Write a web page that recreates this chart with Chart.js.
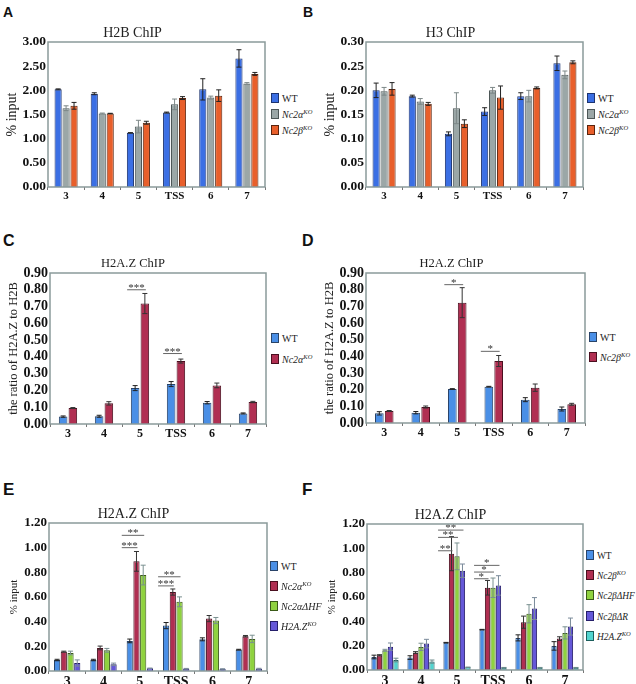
<!DOCTYPE html>
<html>
<head>
<meta charset="utf-8">
<script src="https://cdn.jsdelivr.net/npm/chart.js@4"></script>
<style>
  body { margin: 0; background: #fff; }
  #page { position: relative; width: 636px; height: 684px; overflow: hidden; }
  .panel { position: absolute; }
  .tag { position: absolute; font-family: "Liberation Sans", Arial, sans-serif; font-weight: bold; color: #111; line-height: 1; }
  .lg { position: absolute; font-family: "Liberation Serif", "Times New Roman", serif; font-size: 10px; color: #222; white-space: nowrap; line-height: 12px; }
  .lg.small { font-size: 9.4px; }
  .lg span.box { display: inline-block; width: 6px; height: 8px; border: 1px solid #333; vertical-align: -1px; margin-right: 3px; }
  .lg sup { font-size: 6.5px; vertical-align: 4px; line-height: 0; }
</style>
</head>
<body>
<div id="page">
  <div class="tag" style="left:3px;top:5px;font-size:14px">A</div>
  <div class="tag" style="left:303px;top:5px;font-size:14px">B</div>
  <div class="tag" style="left:3px;top:233px;font-size:16px">C</div>
  <div class="tag" style="left:302px;top:233px;font-size:16px">D</div>
  <div class="tag" style="left:3px;top:481px;font-size:17px">E</div>
  <div class="tag" style="left:302px;top:481px;font-size:17px">F</div>

  <div class="panel" style="left:0;top:24px;width:268px;height:181px"><canvas id="chartA"></canvas></div>
  <div class="panel" style="left:318px;top:24px;width:268px;height:181px"><canvas id="chartB"></canvas></div>
  <div class="panel" style="left:0;top:255px;width:269px;height:187px"><canvas id="chartC"></canvas></div>
  <div class="panel" style="left:318px;top:255px;width:270px;height:186px"><canvas id="chartD"></canvas></div>
  <div class="panel" style="left:0;top:505px;width:270px;height:184px"><canvas id="chartE"></canvas></div>
  <div class="panel" style="left:318px;top:506px;width:268px;height:182px"><canvas id="chartF"></canvas></div>
</div>

<script>
const sites = ['3', '4', '5', 'TSS', '6', '7'];

// A: H2B ChIP, % input
const h2bWT      = [2.02, 1.93, 1.12, 1.54, 2.02, 2.66];
const h2bWTErr   = [0.01, 0.02, 0.005, 0.01, 0.22, 0.18];
const h2bNc2a    = [1.63, 1.52, 1.25, 1.71, 1.85, 2.14];
const h2bNc2aErr = [0.05, 0.01, 0.13, 0.11, 0.03, 0.02];
const h2bNc2b    = [1.68, 1.52, 1.33, 1.84, 1.89, 2.34];
const h2bNc2bErr = [0.07, 0.005, 0.03, 0.03, 0.12, 0.03];

// B: H3 ChIP, % input
const h3WT      = [0.200, 0.188, 0.110, 0.156, 0.188, 0.256];
const h3WTErr   = [0.015, 0.002, 0.004, 0.008, 0.007, 0.015];
const h3Nc2a    = [0.198, 0.177, 0.163, 0.200, 0.188, 0.232];
const h3Nc2aErr = [0.008, 0.006, 0.032, 0.006, 0.012, 0.008];
const h3Nc2b    = [0.203, 0.172, 0.131, 0.185, 0.205, 0.258];
const h3Nc2bErr = [0.013, 0.003, 0.008, 0.024, 0.002, 0.003];

// C: H2A.Z / H2B, Nc2a KO
const cWT      = [0.044, 0.046, 0.214, 0.238, 0.127, 0.063];
const cWTErr   = [0.004, 0.006, 0.015, 0.015, 0.007, 0.003];
const cNc2a    = [0.095, 0.123, 0.718, 0.375, 0.230, 0.131];
const cNc2aErr = [0.003, 0.010, 0.060, 0.012, 0.014, 0.004];
// [site index, from series, to series, y value, label]
const cSig = [[2, 0, 1, 0.80, '***'], [3, 0, 1, 0.42, '***']];

// D: H2A.Z / H2B, Nc2b KO
const dWT      = [0.058, 0.062, 0.204, 0.218, 0.140, 0.084];
const dWTErr   = [0.010, 0.007, 0.002, 0.002, 0.012, 0.012];
const dNc2b    = [0.072, 0.096, 0.722, 0.372, 0.212, 0.112];
const dNc2bErr = [0.003, 0.006, 0.090, 0.033, 0.022, 0.006];
const dSig = [[2, 0, 1, 0.83, '*'], [3, 0, 1, 0.43, '*']];

// E: H2A.Z ChIP, % input
const eWT        = [0.089, 0.089, 0.244, 0.368, 0.257, 0.173];
const eWTErr     = [0.006, 0.006, 0.015, 0.025, 0.012, 0.003];
const eNc2a      = [0.157, 0.187, 0.889, 0.640, 0.425, 0.282];
const eNc2aErr   = [0.004, 0.015, 0.080, 0.025, 0.025, 0.006];
const eNc2aHF    = [0.146, 0.168, 0.778, 0.561, 0.409, 0.260];
const eNc2aHFErr = [0.015, 0.015, 0.080, 0.040, 0.025, 0.030];
const eH2az      = [0.065, 0.054, 0.022, 0.019, 0.016, 0.019];
const eH2azErr   = [0.025, 0.010, 0.002, 0.002, 0.002, 0.003];
const eSig = [[2, 0, 2, 1.10, '**'], [2, 0, 1, 1.00, '***'], [3, 0, 2, 0.764, '**'], [3, 0, 1, 0.69, '***']];

// F: H2A.Z ChIP, % input
const fWT        = [0.107, 0.102, 0.225, 0.332, 0.264, 0.198];
const fWTErr     = [0.015, 0.015, 0.002, 0.002, 0.025, 0.035];
const fNc2b      = [0.121, 0.143, 0.956, 0.676, 0.393, 0.258];
const fNc2bErr   = [0.005, 0.008, 0.140, 0.060, 0.050, 0.015];
const fNc2bHF    = [0.162, 0.190, 0.934, 0.676, 0.462, 0.305];
const fNc2bHFErr = [0.008, 0.030, 0.110, 0.080, 0.075, 0.050];
const fNc2bR     = [0.192, 0.217, 0.816, 0.695, 0.505, 0.357];
const fNc2bRErr  = [0.030, 0.035, 0.055, 0.080, 0.090, 0.070];
const fH2az      = [0.082, 0.069, 0.022, 0.019, 0.019, 0.019];
const fH2azErr   = [0.015, 0.013, 0.002, 0.002, 0.002, 0.002];
const fSig = [[2, 0, 3, 1.15, '**'], [2, 0, 2, 1.09, '**'], [2, 0, 1, 0.98, '**'],
              [3, 0, 3, 0.86, '*'], [3, 0, 2, 0.805, '*'], [3, 0, 1, 0.75, '*']];

const serif = '"Liberation Serif", "Times New Roman", serif';

const C = {
  blueA:  ['#3b6fe4', '#1d3470', '#222'],
  gray:   ['#9ba7a7', '#4d5757', '#7d8888'],
  orange: ['#e85f2b', '#5a240e', '#222'],
  blue:   ['#4a8fe6', '#2a4468', '#222'],
  red:    ['#b02f52', '#4a1020', '#333'],
  green:  ['#8fd23f', '#3a5a18', '#7a9090'],
  purple: ['#6558d8', '#261f6a', '#7a8a9a'],
  cyan:   ['#52d4cf', '#1c5e5c', '#6a8a8a']
};

// error bars, significance bars and the plot frame
function marks(sig) {
  return {
    id: 'marks',
    afterDatasetsDraw(chart) {
      const ctx = chart.ctx;
      const ys = chart.scales.y;
      ctx.save();
      chart.data.datasets.forEach((ds, i) => {
        const meta = chart.getDatasetMeta(i);
        ctx.strokeStyle = ds.errColor;
        ctx.lineWidth = 1;
        meta.data.forEach((bar, j) => {
          const e = ds.err[j];
          if (!e) return;
          const top = ys.getPixelForValue(ds.data[j] + e);
          const bot = ys.getPixelForValue(ds.data[j] - e);
          const cap = Math.min(2.5, bar.width / 2);
          ctx.beginPath();
          ctx.moveTo(bar.x, top); ctx.lineTo(bar.x, bot);
          ctx.moveTo(bar.x - cap, top); ctx.lineTo(bar.x + cap, top);
          ctx.moveTo(bar.x - cap, bot); ctx.lineTo(bar.x + cap, bot);
          ctx.stroke();
        });
      });
      (sig || []).forEach(s => {
        const a = chart.getDatasetMeta(s[1]).data[s[0]];
        const b = chart.getDatasetMeta(s[2]).data[s[0]];
        const y = ys.getPixelForValue(s[3]);
        const x0 = a.x - 8, x1 = b.x + 1;
        ctx.strokeStyle = '#666';
        ctx.beginPath();
        ctx.moveTo(x0, y); ctx.lineTo(x1, y);
        ctx.stroke();
        ctx.fillStyle = '#333';
        ctx.font = '11px ' + serif;
        ctx.textAlign = 'center';
        ctx.textBaseline = 'alphabetic';
        ctx.fillText(s[4], (x0 + x1) / 2, y + 1);
      });
      const ca = chart.chartArea;
      ctx.strokeStyle = '#8a9a9a';
      ctx.lineWidth = 1.5;
      ctx.strokeRect(ca.left, ca.top, ca.right - ca.left, ca.bottom - ca.top);
      ctx.restore();
    }
  };
}

function makePanel(id, p) {
  return new Chart(document.getElementById(id), {
    type: 'bar',
    data: {
      labels: sites,
      datasets: p.series.map(s => ({
        label: s[0], data: s[1], err: s[2],
        backgroundColor: s[3][0], borderColor: s[3][1], errColor: s[3][2],
        borderWidth: 1, barPercentage: p.barPct, categoryPercentage: p.catPct
      }))
    },
    options: {
      responsive: true,
      maintainAspectRatio: false,
      animation: false,
      layout: { padding: { left: 0, right: 3, top: 0, bottom: 0 } },
      plugins: {
        legend: { display: false },
        tooltip: { enabled: false },
        title: {
          display: true, text: p.title, color: '#222', padding: 0,
          font: { family: serif, size: p.titleSize, weight: 'normal', lineHeight: '18px' }
        }
      },
      scales: {
        x: {
          grid: { display: true, drawOnChartArea: false, drawTicks: true, tickLength: 3, color: '#777', offset: true },
          border: { display: false },
          ticks: { color: '#111', padding: 0, font: { family: serif, weight: 'bold', size: p.xFont } },
          afterFit: s => { s.height = 18; }
        },
        y: {
          min: 0, max: p.yMax,
          grid: { display: false, drawTicks: false },
          border: { display: false },
          ticks: {
            stepSize: p.yStep, padding: 2, color: '#111', autoSkip: false,
            font: { family: serif, weight: 'bold', size: p.yFont },
            callback: v => v.toFixed(2)
          },
          title: {
            display: true, text: p.yTitle, color: '#222',
            font: { family: serif, size: p.yTitleSize },
            padding: { top: p.yTitlePad, bottom: 0 }
          },
          afterFit: s => { s.width = p.yWidth; }
        }
      }
    },
    plugins: [marks(p.sig)]
  });
}

function legend(x, y0, gap, items, cls) {
  const page = document.getElementById('page');
  items.forEach((it, i) => {
    const d = document.createElement('div');
    d.className = 'lg' + (cls ? ' ' + cls : '');
    d.style.left = x + 'px';
    d.style.top = (y0 + i * gap - 6) + 'px';
    d.innerHTML = '<span class="box" style="background:' + it[1][0] + ';border-color:' + it[1][1] + '"></span>' + it[0];
    page.appendChild(d);
  });
}

makePanel('chartA', {
  title: 'H2B ChIP', titleSize: 14, yTitle: '% input', yTitleSize: 14, yTitlePad: 4,
  yMax: 3, yStep: 0.5, yFont: 13.5, xFont: 11, yWidth: 48, catPct: 0.66, barPct: 0.9,
  series: [['WT', h2bWT, h2bWTErr, C.blueA], ['Nc2αKO', h2bNc2a, h2bNc2aErr, C.gray], ['Nc2βKO', h2bNc2b, h2bNc2bErr, C.orange]]
});
makePanel('chartB', {
  title: 'H3 ChIP', titleSize: 14, yTitle: '% input', yTitleSize: 14, yTitlePad: 4,
  yMax: 0.3, yStep: 0.05, yFont: 13.5, xFont: 11, yWidth: 48, catPct: 0.66, barPct: 0.9,
  series: [['WT', h3WT, h3WTErr, C.blueA], ['Nc2αKO', h3Nc2a, h3Nc2aErr, C.gray], ['Nc2βKO', h3Nc2b, h3Nc2bErr, C.orange]]
});
makePanel('chartC', {
  title: 'H2A.Z ChIP', titleSize: 12.5, yTitle: 'the ratio of H2A.Z to H2B', yTitleSize: 12.5, yTitlePad: 6,
  yMax: 0.9, yStep: 0.1, yFont: 14, xFont: 12, yWidth: 50, catPct: 0.54, barPct: 0.88, sig: cSig,
  series: [['WT', cWT, cWTErr, C.blue], ['Nc2αKO', cNc2a, cNc2aErr, C.red]]
});
makePanel('chartD', {
  title: 'H2A.Z ChIP', titleSize: 12.5, yTitle: 'the ratio of H2A.Z to H2B', yTitleSize: 12.5, yTitlePad: 4,
  yMax: 0.9, yStep: 0.1, yFont: 14, xFont: 12, yWidth: 48, catPct: 0.54, barPct: 0.88, sig: dSig,
  series: [['WT', dWT, dWTErr, C.blue], ['Nc2βKO', dNc2b, dNc2bErr, C.red]]
});
makePanel('chartE', {
  title: 'H2A.Z ChIP', titleSize: 14, yTitle: '% input', yTitleSize: 11, yTitlePad: 8,
  yMax: 1.2, yStep: 0.2, yFont: 13, xFont: 14, yWidth: 49, catPct: 0.74, barPct: 0.92, sig: eSig,
  series: [['WT', eWT, eWTErr, C.blue], ['Nc2αKO', eNc2a, eNc2aErr, C.red],
           ['Nc2αΔHF', eNc2aHF, eNc2aHFErr, C.green], ['H2A.ZKO', eH2az, eH2azErr, C.purple]]
});
makePanel('chartF', {
  title: 'H2A.Z ChIP', titleSize: 14, yTitle: '% input', yTitleSize: 11, yTitlePad: 8,
  yMax: 1.2, yStep: 0.2, yFont: 13, xFont: 14, yWidth: 49, catPct: 0.76, barPct: 0.96, sig: fSig,
  series: [['WT', fWT, fWTErr, C.blue], ['Nc2βKO', fNc2b, fNc2bErr, C.red], ['Nc2βΔHF', fNc2bHF, fNc2bHFErr, C.green],
           ['Nc2βΔR', fNc2bR, fNc2bRErr, C.purple], ['H2A.ZKO', fH2az, fH2azErr, C.cyan]]
});

const kA = ['WT', C.blueA], kAa = ['<i>Nc2α</i><sup><i>KO</i></sup>', C.gray], kAb = ['<i>Nc2β</i><sup><i>KO</i></sup>', C.orange];
legend(271, 99, 16, [kA, kAa, kAb]);
legend(587, 99, 16, [kA, kAa, kAb]);
legend(271, 339, 21, [['WT', C.blue], ['<i>Nc2α</i><sup><i>KO</i></sup>', C.red]]);
legend(589, 338, 20, [['WT', C.blue], ['<i>Nc2β</i><sup><i>KO</i></sup>', C.red]]);
legend(270, 567, 20, [['WT', C.blue], ['<i>Nc2α</i><sup><i>KO</i></sup>', C.red],
  ['<i>Nc2αΔHF</i>', C.green], ['<i>H2A.Z</i><sup><i>KO</i></sup>', C.purple]]);
legend(586, 556, 20.2, [['WT', C.blue], ['<i>Nc2β</i><sup><i>KO</i></sup>', C.red], ['<i>Nc2βΔHF</i>', C.green],
  ['<i>Nc2βΔR</i>', C.purple], ['<i>H2A.Z</i><sup><i>KO</i></sup>', C.cyan]], 'small');
</script>
</body>
</html>
